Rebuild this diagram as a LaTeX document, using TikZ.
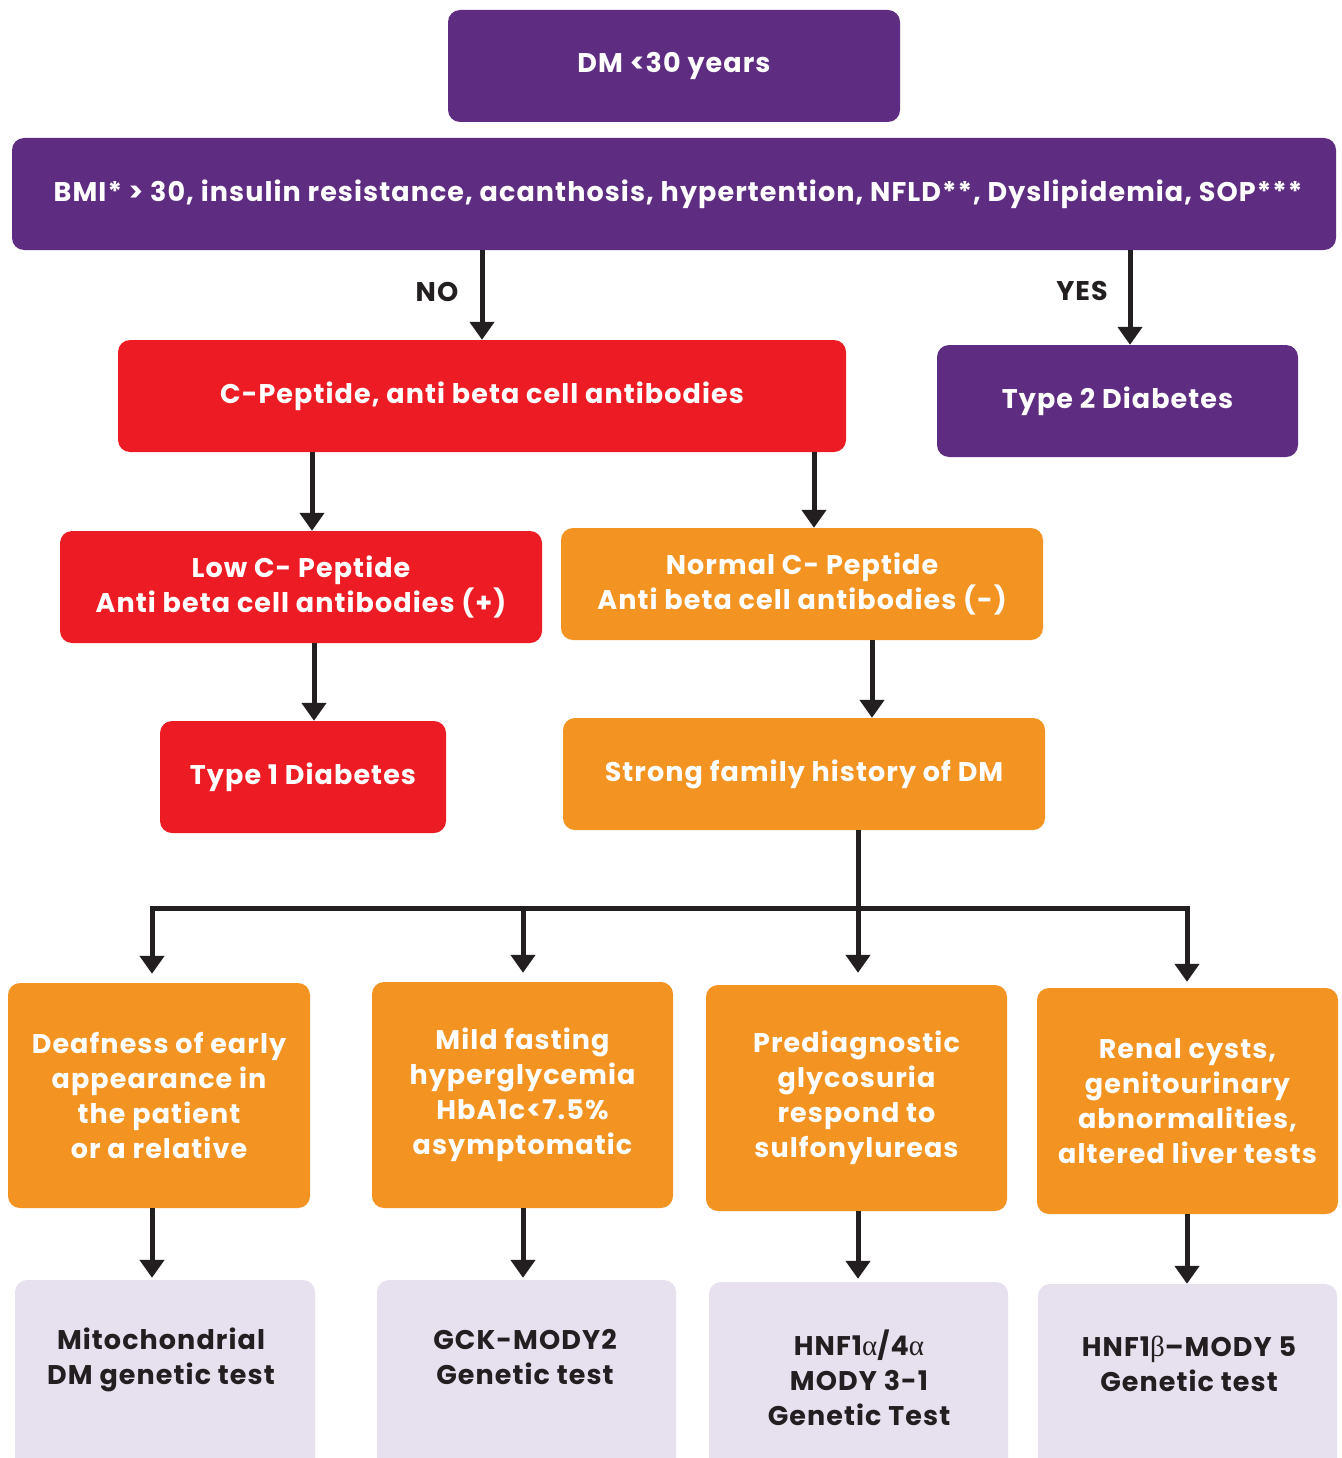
\documentclass[tikz,border=0pt]{standalone}
\usepackage{fontspec}
\setmainfont{Poppins}[LetterSpace=4]
\newfontfamily\grk{Liberation Serif}
\usetikzlibrary{arrows.meta,calc}
\definecolor{cpurple}{RGB}{94,45,130}
\definecolor{cred}{RGB}{237,28,36}
\definecolor{corange}{RGB}{243,147,34}
\definecolor{clav}{RGB}{231,225,239}
\definecolor{cdark}{RGB}{35,31,32}
\tikzset{
  basebox/.style={rounded corners=12pt, inner sep=0pt, align=center, text=white,
    font=\fontsize{27}{35}\selectfont\bfseries},
  pbox/.style={basebox, fill=cpurple},
  rbox/.style={basebox, fill=cred},
  obox/.style={basebox, fill=corange},
  lbox/.style={rounded corners=12pt, inner sep=0pt, fill=clav},
  ltext/.style={align=center, text=cdark, inner sep=0pt, font=\fontsize{27}{35}\selectfont\bfseries},
  arr/.style={draw=cdark, line width=5pt, -{Triangle[width=24pt,length=18pt]}},
  ln/.style={draw=cdark, line width=5pt},
  lab/.style={text=cdark, inner sep=0pt, font=\fontsize{27}{30}\selectfont\bfseries},
}
\newcommand{\gka}{{\grk\mdseries\fontsize{29}{35}\selectfont α}}
\newcommand{\gkb}{{\grk\mdseries\fontsize{29}{35}\selectfont β}}
\begin{document}
\begin{tikzpicture}[x=1pt,y=-1pt]
\clip (0,0) rectangle (1341,1458);
\useasboundingbox (0,0) rectangle (1341,1458);
\fill[white] (0,0) rectangle (1341,1458);
% top
\node[pbox, minimum width=452pt, minimum height=112pt] (dm) at (674,66) {DM <30 years};
\node[pbox, minimum width=1324pt, minimum height=112pt] (bmi) at (674,194)
  {\hspace*{8pt}BMI* > 30, insulin resistance, acanthosis, hypertention, NFLD**, Dyslipidemia, SOP***};
\node[rbox, minimum width=728pt, minimum height=112pt] (cpep) at (482,396) {C-Peptide, anti beta cell antibodies};
\node[pbox, minimum width=361pt, minimum height=112pt] (t2) at (1117.5,401) {Type 2 Diabetes};
\node[rbox, minimum width=482pt, minimum height=112pt] (low) at (301,587) {Low C- Peptide\\Anti beta cell antibodies (+)};
\node[obox, minimum width=482pt, minimum height=112pt] (norm) at (802,584) {Normal C- Peptide\\Anti beta cell antibodies (-)};
\node[rbox, minimum width=286pt, minimum height=112pt] (t1) at (303,777) {Type 1 Diabetes};
\node[obox, minimum width=482pt, minimum height=112pt] (fam) at (804,774) {Strong family history of DM};
% orange row
\node[obox, minimum width=302pt, minimum height=225pt] (o1) at (159,1095.5) {Deafness of early\\appearance in\\the patient\\or a relative};
\node[obox, minimum width=301pt, minimum height=226pt] (o2) at (522.5,1095) {Mild fasting\\hyperglycemia\\HbA1c<7.5\%\\asymptomatic};
\node[obox, minimum width=301pt, minimum height=226pt] (o3) at (856.5,1098) {Prediagnostic\\glycosuria\\respond to\\sulfonylureas};
\node[obox, minimum width=301pt, minimum height=226pt] (o4) at (1187.5,1101) {Renal cysts,\\genitourinary\\abnormalities,\\altered liver tests};
% lavender row
\node[lbox, minimum width=300pt, minimum height=220pt] (g1) at (165,1390) {};
\node[lbox, minimum width=299pt, minimum height=220pt] (g2) at (526.5,1390) {};
\node[lbox, minimum width=299pt, minimum height=220pt] (g3) at (858.5,1392) {};
\node[lbox, minimum width=299pt, minimum height=220pt] (g4) at (1187.5,1394) {};
\node[ltext] (g1t) at (161,1360) {Mitochondrial\\DM genetic test};
\node[ltext] (g2t) at (525,1357) {GCK-MODY2\\Genetic test};
\node[ltext] (g3t) at (859,1378) {HNF1\gka/4\gka\\MODY 3-1\\Genetic Test};
\node[ltext] (g4t) at (1189,1364) {HNF1\gkb–MODY 5\\Genetic test};
% labels
\node[lab] (no) at (437,292) {NO};
\node[lab] (yes) at (1082,291) {YES};
% coordinates for connectors
\coordinate (xa) at (1130,0);
\coordinate (xl) at (312,0);
\coordinate (xr) at (814,0);
\coordinate (xt) at (314,0);
\coordinate (xf) at (872,0);
\coordinate (j) at (858,908);
\coordinate (c1) at (152,0);
\coordinate (c2) at (523,0);
\coordinate (c3) at (858,0);
\coordinate (c4) at (1187,0);
% connectors
\draw[arr] (bmi.south -| cpep.north) -- (cpep.north);
\draw[arr] (bmi.south -| xa) -- (t2.north -| xa);
\draw[arr] (cpep.south -| xl) -- (low.north -| xl);
\draw[arr] (cpep.south -| xr) -- (norm.north -| xr);
\draw[arr] (low.south -| xt) -- (t1.north -| xt);
\draw[arr] (norm.south -| xf) -- (fam.north -| xf);
\draw[ln] (fam.south -| j) -- (j);
\draw[ln, line cap=rect] (j -| c1) -- (j -| c4);
\draw[arr, shorten >=9pt] (j -| c1) -- (o1.north -| c1);
\draw[arr, shorten >=9pt] (j -| c2) -- (o2.north -| c2);
\draw[arr, shorten >=12pt] (j) -- (o3.north -| c3);
\draw[arr, shorten >=6pt] (j -| c4) -- (o4.north -| c4);
\draw[arr, shorten >=2pt] (o1.south -| c1) -- (g1.north -| c1);
\draw[arr, shorten >=2pt] (o2.south -| c2) -- (g2.north -| c2);
\draw[arr, shorten >=3pt] (o3.south -| c3) -- (g3.north -| c3);
\draw[arr, shorten >=0pt] (o4.south -| c4) -- (g4.north -| c4);
\end{tikzpicture}
\end{document}
